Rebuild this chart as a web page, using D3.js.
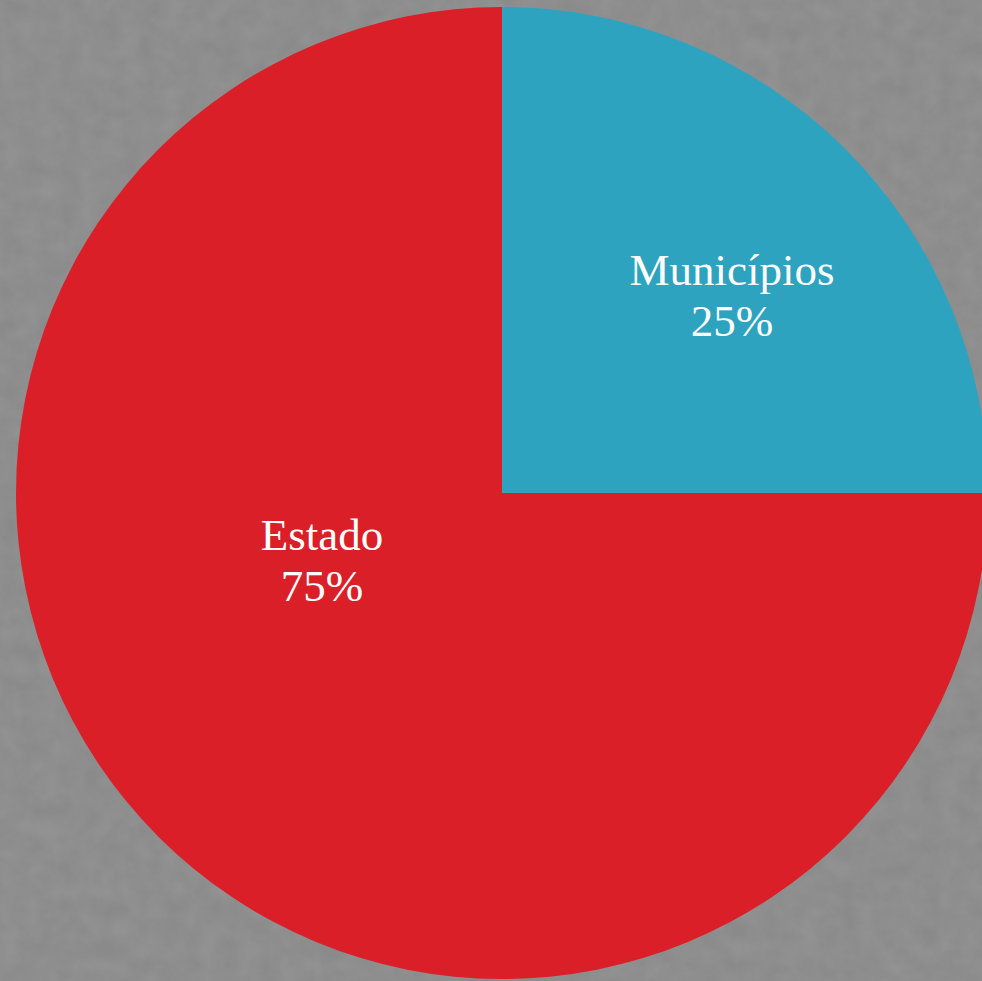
<!DOCTYPE html>
<html>
<head>
<meta charset="utf-8">
<script src="https://cdn.jsdelivr.net/npm/d3@7"></script>
<style>
    html, body { margin: 0; padding: 0; background: #8b8b8b; overflow: hidden; }
    .slice-label { font-family: "Liberation Serif", "DejaVu Serif", serif; fill: #ffffff; }
</style>
</head>
<body>
<svg id="chart"></svg>
<script>
// Data
let categories = ['Municípios', 'Estado']
let values = [25, 75]
let colors = ['#2ea3bf', '#db1f29']

// Dimensions
let width = 982
let height = 981
let center = { x: 502, y: 493 }
let radius = 486

// Label nudges (px, relative to pie center) - picked by eye
let label_pos = [
    { x: 230, y: -188 },
    { x: -180, y: 77 }
]

let svg = d3.select('#chart')
    .attr('width', width)
    .attr('height', height)

// Background with a bit of stone texture
let defs = svg.append('defs')
let filter = defs.append('filter')
    .attr('id', 'grain')
    .attr('x', 0).attr('y', 0)
    .attr('width', '100%').attr('height', '100%')
filter.append('feTurbulence')
    .attr('type', 'fractalNoise')
    .attr('baseFrequency', 0.05)
    .attr('numOctaves', 4)
    .attr('seed', 3)
filter.append('feColorMatrix')
    .attr('type', 'matrix')
    .attr('values', '0 0 0 0 0.45  0 0 0 0 0.45  0 0 0 0 0.45  0.33 0.33 0.33 0 -0.3')

svg.append('rect')
    .attr('width', width)
    .attr('height', height)
    .attr('fill', '#8a8a8a')

svg.append('rect')
    .attr('width', width)
    .attr('height', height)
    .attr('filter', 'url(#grain)')
    .attr('opacity', 0.5)

// Pie
let pie = d3.pie().sort(null).value(d => d)
let arc = d3.arc().innerRadius(0).outerRadius(radius)
let arcs = pie(values)

let g = svg.append('g')
    .attr('transform', `translate(${center.x},${center.y})`)

g.selectAll('path')
    .data(arcs)
    .enter()
    .append('path')
    .attr('d', arc)
    .attr('fill', (d, i) => colors[i])

// Labels
let labels = g.selectAll('.slice-label')
    .data(arcs)
    .enter()
    .append('text')
    .attr('class', 'slice-label')
    .attr('text-anchor', 'middle')
    .attr('font-size', 45)
    .attr('transform', (d, i) => `translate(${label_pos[i].x},${label_pos[i].y})`)

labels.append('tspan')
    .attr('x', 0)
    .attr('y', -20)
    .text((d, i) => categories[i])

labels.append('tspan')
    .attr('x', 0)
    .attr('y', 31)
    .text(d => d.value + '%')
</script>
</body>
</html>
